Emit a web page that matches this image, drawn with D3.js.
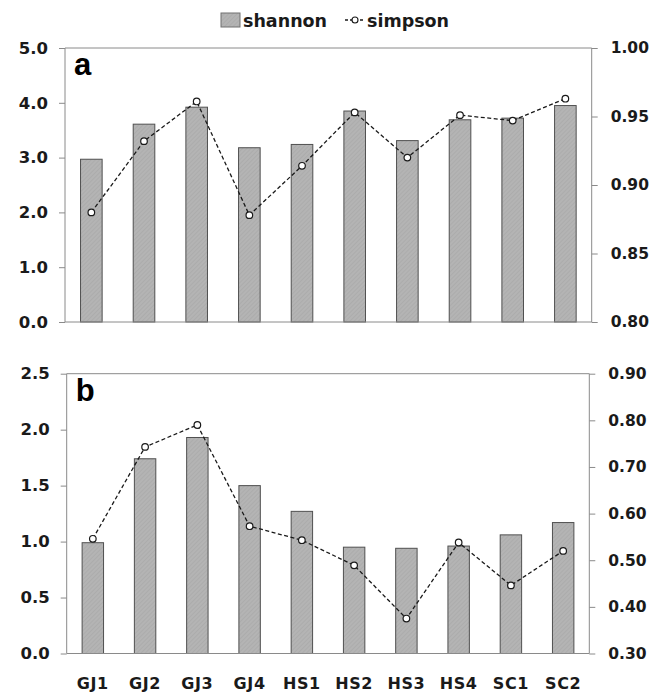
<!DOCTYPE html>
<html>
<head>
<meta charset="utf-8">
<script src="https://cdn.jsdelivr.net/npm/d3@7"></script>
<style>
  html, body { margin: 0; padding: 0; background: #fff; }
  svg { display: block; }
</style>
</head>
<body>
<svg id="chart" width="662" height="692"></svg>
<script>
const categories = ["GJ1", "GJ2", "GJ3", "GJ4", "HS1", "HS2", "HS3", "HS4", "SC1", "SC2"];
const shannonA = [2.97, 3.61, 3.92, 3.18, 3.24, 3.85, 3.31, 3.69, 3.72, 3.95];
const simpsonA = [0.880, 0.932, 0.961, 0.878, 0.914, 0.953, 0.920, 0.951, 0.947, 0.963];
const shannonB = [0.99, 1.74, 1.93, 1.50, 1.27, 0.95, 0.94, 0.96, 1.06, 1.17];
const simpsonB = [0.546, 0.743, 0.790, 0.573, 0.543, 0.489, 0.375, 0.538, 0.446, 0.520];
const leftTicksA = [0, 1, 2, 3, 4, 5];
const rightTicksA = [0.80, 0.85, 0.90, 0.95, 1.00];
const leftTicksB = [0, 0.5, 1.0, 1.5, 2.0, 2.5];
const rightTicksB = [0.30, 0.40, 0.50, 0.60, 0.70, 0.80, 0.90];
const seriesNames = ["shannon", "simpson"];
const panelLabels = ["a", "b"];

const svg = d3.select("#chart");
const axisColor = "#8a8a8a";
const textColor = "#1a1a1a";
const font = "'DejaVu Sans', sans-serif";

// hatch pattern for bars
const defs = svg.append("defs");
const pat = defs.append("pattern").attr("id", "hatch")
  .attr("patternUnits", "userSpaceOnUse").attr("width", 3).attr("height", 3)
  .attr("patternTransform", "rotate(45)");
pat.append("rect").attr("width", 3).attr("height", 3).attr("fill", "#b4b4b4");
pat.append("line").attr("x1", 0).attr("y1", 0).attr("x2", 0).attr("y2", 3)
  .attr("stroke", "#a4a4a4").attr("stroke-width", 1);

const panels = [
  { x0: 65, x1: 591.7, y0: 48, y1: 322, lDom: [0, 5], rDom: [0.80, 1.00],
    lTicks: leftTicksA, rTicks: rightTicksA, lFmt: d3.format(".1f"), rFmt: d3.format(".2f"),
    bars: shannonA, line: simpsonA, label: panelLabels[0], xLabels: false },
  { x0: 66.7, x1: 589.3, y0: 373.7, y1: 653.5, lDom: [0, 2.5], rDom: [0.30, 0.90],
    lTicks: leftTicksB, rTicks: rightTicksB, lFmt: d3.format(".1f"), rFmt: d3.format(".2f"),
    bars: shannonB, line: simpsonB, label: panelLabels[1], xLabels: true }
];

panels.forEach(p => {
  const g = svg.append("g");
  const x = d3.scaleBand().domain(categories).range([p.x0, p.x1]).paddingInner(0.59).paddingOuter(0.295);
  const yL = d3.scaleLinear().domain(p.lDom).range([p.y1, p.y0]);
  const yR = d3.scaleLinear().domain(p.rDom).range([p.y1, p.y0]);

  // bars
  g.selectAll("rect.bar").data(p.bars).join("rect")
    .attr("class", "bar")
    .attr("x", (d, i) => x(categories[i]))
    .attr("width", x.bandwidth())
    .attr("y", d => yL(d))
    .attr("height", d => yL(0) - yL(d))
    .attr("fill", "url(#hatch)")
    .attr("stroke", "#505050").attr("stroke-width", 1);

  // axes
  const lAxis = d3.axisLeft(yL).tickValues(p.lTicks).tickFormat(p.lFmt).tickSize(6).tickPadding(11);
  const rAxis = d3.axisRight(yR).tickValues(p.rTicks).tickFormat(p.rFmt).tickSize(6).tickPadding(13);
  [[lAxis, p.x0, 16.5], [rAxis, p.x1, 15.5]].forEach(([ax, xp, fs]) => {
    const a = g.append("g").attr("transform", `translate(${xp},0)`).call(ax);
    a.select(".domain").remove();
    a.selectAll("line").attr("stroke", axisColor);
    a.selectAll("text").attr("font-family", font).attr("font-weight", "bold")
      .attr("font-size", fs).attr("fill", textColor);
  });
  // frame lines
  g.append("line").attr("x1", p.x0).attr("x2", p.x0).attr("y1", p.y0).attr("y2", p.y1).attr("stroke", axisColor);
  g.append("line").attr("x1", p.x1).attr("x2", p.x1).attr("y1", p.y0).attr("y2", p.y1).attr("stroke", axisColor);
  g.append("line").attr("x1", p.x0).attr("x2", p.x1).attr("y1", p.y0).attr("y2", p.y0).attr("stroke", axisColor);
  g.append("line").attr("x1", p.x0).attr("x2", p.x1).attr("y1", p.y1).attr("y2", p.y1).attr("stroke", axisColor);

  // simpson line
  const cx = (d, i) => x(categories[i]) + x.bandwidth() / 2;
  const lineGen = d3.line().x(cx).y(d => yR(d));
  g.append("path").datum(p.line).attr("d", lineGen)
    .attr("fill", "none").attr("stroke", "#1a1a1a").attr("stroke-width", 1.3)
    .attr("stroke-dasharray", "4,2.5");
  g.selectAll("circle.pt").data(p.line).join("circle").attr("class", "pt")
    .attr("cx", cx).attr("cy", d => yR(d)).attr("r", 3.3)
    .attr("fill", "#fff").attr("stroke", "#1a1a1a").attr("stroke-width", 1.2);

  // panel label
  g.append("text").attr("x", p.x0 + 9).attr("y", p.y0 + 27)
    .attr("font-family", "'Liberation Sans', Arial, sans-serif").attr("font-weight", "bold")
    .attr("font-size", 31).attr("fill", "#000").text(p.label);

  // x labels
  if (p.xLabels) {
    g.selectAll("text.xl").data(categories).join("text").attr("class", "xl")
      .attr("x", d => x(d) + x.bandwidth() / 2).attr("y", 688.5)
      .attr("text-anchor", "middle")
      .attr("font-family", font).attr("font-weight", "bold").attr("font-size", 16)
      .attr("letter-spacing", 0.6).attr("fill", textColor).text(d => d);
  }
});

// legend
const lg = svg.append("g");
lg.append("rect").attr("x", 221).attr("y", 13).attr("width", 19).attr("height", 14)
  .attr("fill", "url(#hatch)").attr("stroke", "#707070").attr("stroke-width", 1);
lg.append("text").attr("x", 243).attr("y", 27).attr("font-family", font)
  .attr("font-weight", "bold").attr("font-size", 17.5)
  .attr("fill", textColor).text(seriesNames[0]);
lg.append("line").attr("x1", 345).attr("x2", 365).attr("y1", 20).attr("y2", 20)
  .attr("stroke", "#1a1a1a").attr("stroke-width", 1.3).attr("stroke-dasharray", "3,2");
lg.append("circle").attr("cx", 355).attr("cy", 20).attr("r", 3)
  .attr("fill", "#fff").attr("stroke", "#1a1a1a").attr("stroke-width", 1.1);
lg.append("text").attr("x", 367).attr("y", 27).attr("font-family", font)
  .attr("font-weight", "bold").attr("font-size", 17.5)
  .attr("fill", textColor).text(seriesNames[1]);
</script>
</body>
</html>
